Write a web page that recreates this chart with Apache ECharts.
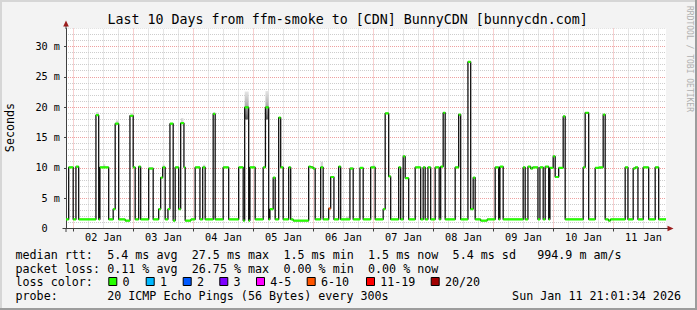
<!DOCTYPE html>
<html><head><meta charset="utf-8">
<script src="https://cdn.jsdelivr.net/npm/echarts@6/dist/echarts.min.js"></script>
<style>html,body{margin:0;padding:0;background:#f3f3f3}#c{width:697px;height:310px}</style>
</head><body><div id="c"></div>
<script>
// ---- time range (hours since 01 Jan 00:00) ----
const START_H = 21.026, END_H = 261.026;

// ---- median RTT (ms): value becomes medianMs[i] at changeHours[i] ----
const changeHours = [
 21.03, 22.1, 23.9, 25.0, 26.1, 33.0, 34.1, 34.6, 38.1, 39.9,
 40.7, 42.1, 44.7, 46.6, 47.9, 48.7, 50.1, 50.9, 54.1, 55.9,
 58.1, 58.9, 59.7, 60.7, 61.8, 62.6, 63.9, 64.7, 66.1, 66.9,
 68.2, 68.7, 71.0, 72.7, 74.6, 75.7, 76.7, 79.9, 80.7, 83.9,
 86.1, 90.1, 91.9, 92.5, 94.1, 94.6, 96.7, 99.9, 100.8, 102.1,
 102.6, 103.9, 104.7, 106.1, 106.9, 107.9, 110.1, 110.9, 111.9, 118.1,
 118.9, 119.9, 120.7, 122.9, 123.9, 126.1, 126.9, 128.2, 130.1, 130.9,
 134.6, 135.9, 138.6, 139.9, 142.9, 144.7, 147.9, 148.7, 150.1, 150.9,
 154.1, 154.9, 155.9, 156.7, 158.1, 160.7, 162.9, 163.9, 164.7, 165.8,
 166.9, 168.7, 170.3, 170.9, 171.9, 172.7, 176.7, 178.1, 178.9, 181.8,
 182.9, 183.9, 184.7, 186.9, 189.5, 192.7, 194.1, 194.6, 195.9, 203.9,
 204.7, 205.8, 206.9, 207.7, 209.8, 210.6, 211.9, 212.7, 214.1, 214.6,
 215.9, 216.7, 218.1, 219.9, 220.7, 227.9, 228.7, 230.1, 232.7, 234.1,
 235.9, 236.7, 238.0, 238.8, 244.7, 245.8, 247.9, 248.7, 249.8, 251.9,
 254.1, 256.7, 258.1
];
const medianMs = [
 1.5, 10.1, 1.5, 10.2, 1.5, 18.7, 1.5, 10.1, 1.5, 3.2,
 17.3, 1.5, 1.3, 18.6, 10.1, 1.5, 10.2, 1.5, 9.9, 1.5,
 3.2, 8.4, 10.1, 1.5, 3.2, 17.3, 1.3, 10.1, 3.2, 17.4,
 10.1, 1.3, 1.5, 10.1, 1.5, 10.1, 1.5, 18.9, 1.5, 10.1,
 1.5, 10.1, 1.3, 20.0, 1.3, 10.1, 1.5, 10.1, 20.0, 1.5,
 3.2, 8.4, 1.5, 18.3, 10.1, 1.5, 10.1, 1.5, 1.3, 10.2,
 10.1, 9.9, 1.5, 10.1, 1.5, 3.3, 8.5, 1.5, 10.2, 1.5,
 9.9, 1.5, 10.0, 1.5, 10.1, 1.5, 3.2, 19.0, 8.6, 1.5,
 10.1, 1.5, 11.9, 8.3, 1.5, 10.1, 1.5, 10.1, 1.5, 10.1,
 1.5, 10.1, 1.5, 10.2, 19.1, 1.5, 10.1, 18.8, 1.5, 27.5,
 3.2, 8.4, 1.5, 1.3, 1.5, 10.1, 1.5, 10.2, 1.5, 10.1,
 1.5, 10.2, 9.9, 10.1, 1.5, 10.1, 1.5, 10.2, 1.5, 10.0,
 11.9, 8.5, 10.0, 18.5, 1.5, 10.1, 19.1, 1.5, 10.0, 10.1,
 18.8, 1.5, 1.3, 1.5, 10.1, 1.5, 9.9, 10.1, 1.5, 10.1,
 1.5, 10.1, 1.5
];

// ---- steps with packet loss (others are 0 loss) ----
const lossHours = [126.1];
const lossBucket = ['6-10'];

// ---- smoke (ping spread) ----
const smokeFrom = [92.5, 100.8, 33.0, 35.9, 41.0, 47.0, 59.7, 67.0, 75.9, 80.0, 122.9, 133.0, 143.7];
const smokeTo   = [94.1, 102.1, 34.1, 36.7, 42.0, 47.9, 60.5, 68.0, 76.7, 80.7, 123.8, 134.3, 144.5];
const smokeLow  = [18.0, 18.0, 18.7, 10.1, 17.3, 18.6, 10.1, 17.4, 10.1, 18.9, 10.1, 1.5, 10.1];
const smokeHigh = [22.6, 22.7, 19.2, 10.6, 17.8, 19.0, 10.5, 18.2, 10.5, 19.2, 11.0, 2.0, 10.5];

// ---- axes ----
const dayTickHours = [24, 48, 72, 96, 120, 144, 168, 192, 216, 240];
const minorTickHours = [30, 36, 42, 54, 60, 66, 78, 84, 90, 102, 108, 114, 126, 132, 138, 150, 156, 162, 174, 180, 186, 198, 204, 210, 222, 228, 234, 246, 252, 258];
const dayLabelHours = [36, 60, 84, 108, 132, 156, 180, 204, 228, 252];
const dayLabels = ['02 Jan', '03 Jan', '04 Jan', '05 Jan', '06 Jan', '07 Jan', '08 Jan', '09 Jan', '10 Jan', '11 Jan'];
const yMajorTicks = [0, 5, 10, 15, 20, 25, 30];
const yLabels = ['0', '5 m', '10 m', '15 m', '20 m', '25 m', '30 m'];
const yMinorTicks = [1, 2, 3, 4, 6, 7, 8, 9, 11, 12, 13, 14, 16, 17, 18, 19, 21, 22, 23, 24, 26, 27, 28, 29, 31, 32, 33];
const Y_MAX = 33;

// ---- legend ----
const lossLegendLabels = ['0', '1', '2', '3', '4-5', '6-10', '11-19', '20/20'];
const lossLegendColors = ['#26ff00', '#00b8ff', '#0059ff', '#7e00ff', '#ff00ff', '#ff5500', '#ff0000', '#a10000'];

const FONT = '"DejaVu Sans Mono", monospace';
const chart = echarts.init(document.getElementById('c'), null, {renderer: 'svg', width: 697, height: 310});

const linePts = changeHours.map((h, i) => [h, medianMs[i]]);
linePts.push([END_H, medianMs[medianMs.length - 1]]);
const segs = changeHours.map((h, i) => {
  const h1 = i + 1 < changeHours.length ? changeHours[i + 1] : END_H;
  const li = lossHours.indexOf(h);
  const ci = li >= 0 ? lossLegendLabels.indexOf(lossBucket[li]) : 0;
  return [h, h1, medianMs[i], ci];
});
const smoke = smokeFrom.map((h, i) => [h, smokeTo[i], smokeLow[i], smokeHigh[i]]);
const minorGrid = minorTickHours.map(h => [0, h]).concat(yMinorTicks.map(v => [1, v]));

const g = [];
function txt(t, x, y, size, o) {
  o = o || {};
  g.push({type: 'text', x: x, y: y, rotation: o.rot || 0, silent: true, z: 100,
    style: {text: t, x: 0, y: 0, fill: o.color || '#000', font: size + 'px ' + FONT,
      align: o.align || 'left', verticalAlign: 'middle', textAlign: o.align || 'left', textVerticalAlign: 'middle'}});
}
// frame
g.push({type: 'rect', shape: {x: 0, y: 0, width: 697, height: 2}, style: {fill: '#d6d6d6'}, silent: true});
g.push({type: 'rect', shape: {x: 0, y: 0, width: 2, height: 310}, style: {fill: '#d6d6d6'}, silent: true});
g.push({type: 'rect', shape: {x: 0, y: 308, width: 697, height: 2}, style: {fill: '#9c9c9c'}, silent: true});
g.push({type: 'rect', shape: {x: 695, y: 0, width: 2, height: 310}, style: {fill: '#9c9c9c'}, silent: true});
// axis extensions and arrows
g.push({type: 'line', shape: {x1: 66, y1: 29, x2: 66, y2: 25}, style: {stroke: '#404040', lineWidth: 1}, z: 50, silent: true});
g.push({type: 'line', shape: {x1: 62.5, y1: 228.5, x2: 669, y2: 228.5}, style: {stroke: '#404040', lineWidth: 1}, z: 50, silent: true});
g.push({type: 'line', shape: {x1: 66, y1: 228.5, x2: 66, y2: 232}, style: {stroke: '#404040', lineWidth: 1}, z: 50, silent: true});
g.push({type: 'polygon', shape: {points: [[63.2, 26.5], [68.8, 26.5], [66, 20.5]]}, style: {fill: '#9b1c1c'}, z: 51, silent: true});
g.push({type: 'polygon', shape: {points: [[667.5, 225.7], [667.5, 231.3], [673.5, 228.5]]}, style: {fill: '#9b1c1c'}, z: 51, silent: true});

txt('Last 10 Days from ffm-smoke to [CDN] BunnyCDN [bunnycdn.com]', 347.7, 19.3, 13.3, {align: 'center'});
txt('Seconds', 10, 127.5, 11.7, {align: 'center', rot: Math.PI / 2});
txt('RRDTOOL / TOBI OETIKER', 689.5, 59, 8, {align: 'center', rot: -Math.PI / 2, color: '#b0b0b0'});

const CW = 7.05, LX = 15.5;
const rows = [
  [254.5, [[0, 'median rtt:'], [13, '5.4 ms avg'], [25, '27.5 ms max'], [38, '1.5 ms min'], [50, '1.5 ms now'], [62, '5.4 ms sd'], [74, '994.9 m am/s']]],
  [268.5, [[0, 'packet loss:'], [13, '0.11 % avg'], [25, '26.75 % max'], [38, '0.00 % min'], [50, '0.00 % now']]],
  [282, [[0, 'loss color:']]],
  [296, [[0, 'probe:'], [13, '20 ICMP Echo Pings (56 Bytes) every 300s']]]
];
rows.forEach(r => r[1].forEach(s => txt(s[1], LX + s[0] * CW, r[0], 11.7)));
txt('Sun Jan 11 21:01:34 2026', 681, 296, 11.7, {align: 'right'});
const boxX = [108.3, 145.7, 182.7, 219.3, 256, 306.7, 366, 430.7];
lossLegendLabels.forEach((l, i) => {
  g.push({type: 'rect', shape: {x: boxX[i] + 0.5, y: 277.5, width: 8, height: 8}, style: {fill: lossLegendColors[i], stroke: '#000', lineWidth: 1}, z: 100, silent: true});
  txt(l, boxX[i] + 14.2, 282, 11.7);
});

const gridLineRed = {color: '#eea0a0', width: 1, type: [1, 1]};
const snap = v => Math.round(v - 0.5) + 0.5;

chart.setOption({
  animation: false,
  backgroundColor: '#f3f3f3',
  grid: {left: 66, right: 31, top: 28.5, bottom: 81.5, show: true, backgroundColor: '#ffffff', borderWidth: 0},
  xAxis: [
    {type: 'value', min: START_H, max: END_H, position: 'bottom',
     axisLine: {show: true, lineStyle: {color: '#404040', width: 1}},
     axisTick: {show: true, customValues: dayTickHours, length: 3, lineStyle: {color: '#404040'}},
     axisLabel: {customValues: dayLabelHours, margin: 4, fontFamily: FONT, fontSize: 10.2, color: '#000',
       formatter: v => dayLabels[dayLabelHours.indexOf(Math.round(v))] || ''},
     splitLine: {show: true, lineStyle: gridLineRed}}
  ],
  yAxis: [
    {type: 'value', min: 0, max: Y_MAX, position: 'left',
     axisLine: {show: true, lineStyle: {color: '#404040', width: 1}},
     axisTick: {show: true, customValues: yMajorTicks, length: 2, lineStyle: {color: '#404040'}},
     axisLabel: {customValues: yMajorTicks, margin: 6, fontFamily: FONT, fontSize: 10.2, color: '#000',
       formatter: v => {const i = yMajorTicks.indexOf(Math.round(v)); return i === 0 ? '{z|0}' : (yLabels[i] || '');},
       rich: {z: {fontFamily: FONT, fontSize: 10.2, color: '#000', padding: [0, 12.3, 0, 0]}}},
     splitLine: {show: true, lineStyle: gridLineRed}}
  ],
  series: [
    {type: 'custom', name: 'minor grid', z: 0, silent: true, clip: true,
     encode: {x: 1, y: 1}, data: minorGrid,
     renderItem: (p, api) => {
       const t = api.value(0), v = api.value(1);
       let a, b;
       if (t === 0) { a = api.coord([v, 0]); b = api.coord([v, Y_MAX]); a[0] = b[0] = snap(a[0]); }
       else { a = api.coord([START_H, v]); b = api.coord([END_H, v]); a[1] = b[1] = snap(a[1]); }
       return {type: 'line', shape: {x1: a[0], y1: a[1], x2: b[0], y2: b[1]},
         style: {stroke: '#cdcdcd', lineWidth: 1, lineDash: [1, 1]}};
     }},
    {type: 'custom', name: 'smoke', z: 1, clip: true,
     encode: {x: [0, 1], y: [2, 3]}, data: smoke,
     renderItem: (p, api) => {
       const a = api.coord([api.value(0), api.value(3)]);
       const b = api.coord([api.value(1), api.value(2)]);
       const big = (b[1] - a[1]) > 10;
       return {type: 'rect', shape: {x: a[0], y: a[1], width: b[0] - a[0], height: b[1] - a[1]},
         style: {fill: big ? new echarts.graphic.LinearGradient(0, 0, 0, 1, [
           {offset: 0, color: '#e6e6e6'}, {offset: 0.45, color: '#b4b4b4'}, {offset: 1, color: '#5c5c5c'}]) : '#d4d4d4'}};
     }},
    {type: 'line', name: 'median', z: 2, step: 'end', symbol: 'none',
     data: linePts, lineStyle: {color: '#111111', width: 1.3}, clip: true},
    {type: 'custom', name: 'loss', z: 3, clip: true,
     encode: {x: [0, 1], y: 2}, data: segs,
     renderItem: (p, api) => {
       const a = api.coord([api.value(0), api.value(2)]);
       const b = api.coord([api.value(1), api.value(2)]);
       return {type: 'rect', shape: {x: a[0], y: a[1] - 1.1, width: b[0] - a[0], height: 2.2},
         style: {fill: lossLegendColors[api.value(3)]}};
     }}
  ],
  graphic: g
});
</script>
</body></html>
